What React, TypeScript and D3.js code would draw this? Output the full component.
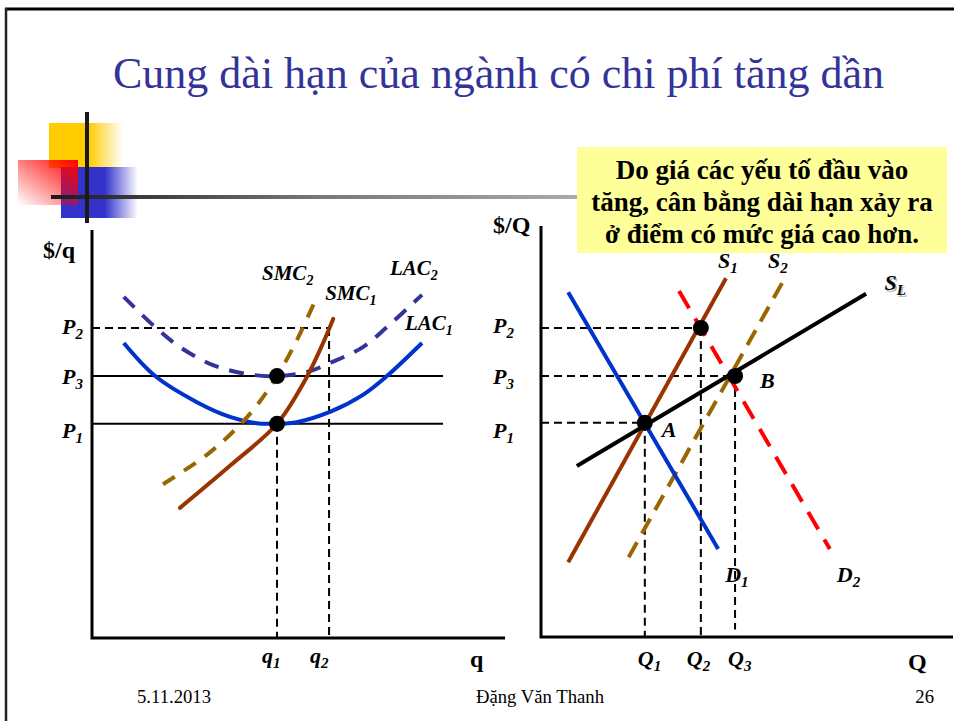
import React, { useEffect } from "react";
import * as d3 from "d3";

const W = 954;
const H = 721;
const SERIF = "'Liberation Serif', 'Times New Roman', Times, serif";

// ---------- Left panel: the firm ($/q vs q) ----------
const lac1: [number, number][] = [
  [0.77, 7.23], [1.53, 6.42], [2.54, 5.78], [3.34, 5.42], [3.95, 5.27], [4.48, 5.25],
  [4.96, 5.29], [5.76, 5.54], [6.56, 5.96], [7.14, 6.42], [7.99, 7.23],
];
const lac2: [number, number][] = [
  [0.77, 8.36], [1.53, 7.62], [2.13, 7.13], [2.93, 6.69], [3.75, 6.47], [4.48, 6.42],
  [5.21, 6.52], [5.76, 6.74], [6.56, 7.13], [7.14, 7.62], [7.99, 8.41],
];
const smc1: [number, number][] = [
  [2.13, 3.19], [3.34, 4.22], [4.48, 5.25], [5.16, 6.32], [5.52, 7.06], [5.84, 7.82],
];
const smc2: [number, number][] = [
  [1.72, 3.77], [2.78, 4.49], [3.51, 5.15], [4.0, 5.71], [4.48, 6.42], [4.96, 7.3], [5.4, 8.26],
];
const firmP1 = 5.25;
const firmP3 = 6.42;
const firmP2 = 7.6;
const firmQ1 = 4.48;
const firmQ2 = 5.74;
const firmLineEnd = 8.5;
const firmDots: [number, number][] = [[4.48, 6.42], [4.48, 5.25]];

// ---------- Right panel: the industry ($/Q vs Q) ----------
const d1: [number, number][] = [[0.66, 8.39], [4.3, 2.14]];
const d2: [number, number][] = [[3.35, 8.42], [7.01, 2.14]];
const s1: [number, number][] = [[4.49, 8.73], [0.66, 1.82]];
const s2: [number, number][] = [[5.85, 8.61], [2.06, 1.82]];
const sl: [number, number][] = [[0.87, 4.16], [7.89, 8.35]];
const mktP1 = 5.21;
const mktP3 = 6.35;
const mktP2 = 7.52;
const mktQ1 = 2.52;
const mktQ2 = 3.88;
const mktQ3 = 4.71;
const mktDots: [number, number][] = [[2.52, 5.21], [3.88, 7.52], [4.71, 6.35]];

const titleText = "Cung dài hạn của ngành có chi phí tăng dần";
const noteLines = [
  "Do giá các yếu tố đầu vào",
  "tăng, cân bằng dài hạn xảy ra",
  "ở điểm có mức giá cao hơn.",
];
const footerDate = "5.11.2013";
const footerAuthor = "Đặng Văn Thanh";
const footerPage = "26";

// scales
const xL = d3.scaleLinear().domain([0, 10]).range([92, 505]);
const yL = d3.scaleLinear().domain([0, 10]).range([638, 230]);
const xR = d3.scaleLinear().domain([0, 10]).range([541, 953]);
const yR = d3.scaleLinear().domain([0, 10]).range([637, 226]);

const curveL = d3
  .line<[number, number]>()
  .x((d) => xL(d[0]))
  .y((d) => yL(d[1]))
  .curve(d3.curveCatmullRom.alpha(0.5));
const lineR = d3
  .line<[number, number]>()
  .x((d) => xR(d[0]))
  .y((d) => yR(d[1]));

type LblProps = {
  x: number;
  y: number;
  main: string;
  sub?: string;
  size?: number;
  subSize?: number;
  italic?: boolean;
  fill?: string;
};
const Lbl = ({ x, y, main, sub, size = 22, subSize = 15, italic = true, fill = "#000" }: LblProps) => (
  <text
    x={x}
    y={y}
    fontFamily={SERIF}
    fontWeight="bold"
    fontStyle={italic ? "italic" : "normal"}
    fontSize={size}
    fill={fill}
  >
    {main}
    {sub ? (
      <tspan fontSize={subSize} dy={5}>
        {sub}
      </tspan>
    ) : null}
  </text>
);

export default function App() {
  useEffect(() => {
    document.body.style.margin = "0";
  }, []);

  const dash = "8 5";
  return (
    <svg
      width={W}
      height={H}
      viewBox={`0 0 ${W} ${H}`}
      style={{ position: "absolute", left: 0, top: 0, background: "#fff" }}
    >
      <defs>
        <linearGradient id="gYellow" x1="0" y1="0" x2="1" y2="0">
          <stop offset="0" stopColor="#ffcc00" />
          <stop offset="0.53" stopColor="#ffcc00" />
          <stop offset="1" stopColor="#ffcc00" stopOpacity="0" />
        </linearGradient>
        <linearGradient id="gBlue" x1="0" y1="0" x2="1" y2="0">
          <stop offset="0" stopColor="#3333cc" />
          <stop offset="0.57" stopColor="#3333cc" />
          <stop offset="1" stopColor="#3333cc" stopOpacity="0" />
        </linearGradient>
        <linearGradient id="gRed" x1="1" y1="0" x2="0" y2="1">
          <stop offset="0" stopColor="#ff0000" />
          <stop offset="1" stopColor="#ff0000" stopOpacity="0" />
        </linearGradient>
        <linearGradient id="gBar" x1="0" y1="0" x2="1" y2="0">
          <stop offset="0" stopColor="#1a1a1a" />
          <stop offset="0.5" stopColor="#777" />
          <stop offset="1" stopColor="#aaa" />
        </linearGradient>
      </defs>

      {/* slide frame */}
      <line x1={5} y1={9} x2={W} y2={9} stroke="#000" strokeWidth={3} />
      <line x1={6} y1={8} x2={6} y2={H} stroke="#222" strokeWidth={2.5} />

      {/* decoration */}
      <rect x={49} y={123} width={74} height={45} fill="url(#gYellow)" />
      <rect x={61} y={167} width={77} height={51} fill="url(#gBlue)" />
      <rect x={18} y={160} width={60} height={45} fill="url(#gRed)" />
      <rect x={51} y={195} width={526} height={4} fill="url(#gBar)" />
      <rect x={85} y={112} width={4} height={111} fill="#1a1a1a" />

      {/* title */}
      <text x={113} y={88} fontFamily={SERIF} fontSize={44} fill="#333399">
        {titleText}
      </text>

      {/* note box */}
      <rect x={577} y={147} width={370} height={106} fill="#ffff99" />
      {noteLines.map((t, i) => (
        <text
          key={i}
          x={762}
          y={179 + i * 32}
          textAnchor="middle"
          fontFamily={SERIF}
          fontWeight="bold"
          fontSize={27}
          fill="#000"
        >
          {t}
        </text>
      ))}

      {/* ===== Left panel ===== */}
      <g>
        {/* reference lines */}
        <line x1={xL(0)} y1={yL(firmP2)} x2={xL(firmQ2)} y2={yL(firmP2)} stroke="#000" strokeWidth={2} strokeDasharray={dash} />
        <line x1={xL(0)} y1={yL(firmP3)} x2={xL(firmLineEnd)} y2={yL(firmP3)} stroke="#000" strokeWidth={2} />
        <line x1={xL(0)} y1={yL(firmP1)} x2={xL(firmLineEnd)} y2={yL(firmP1)} stroke="#000" strokeWidth={2} />
        <line x1={xL(firmQ1)} y1={yL(firmP1)} x2={xL(firmQ1)} y2={yL(0)} stroke="#000" strokeWidth={2} strokeDasharray={dash} />
        <line x1={xL(firmQ2)} y1={yL(firmP2)} x2={xL(firmQ2)} y2={yL(0)} stroke="#000" strokeWidth={2} strokeDasharray={dash} />

        {/* curves */}
        <path d={curveL(lac2) || ""} fill="none" stroke="#333399" strokeWidth={4} strokeDasharray="15 11" />
        <path d={curveL(lac1) || ""} fill="none" stroke="#0033cc" strokeWidth={4} />
        <path d={curveL(smc2) || ""} fill="none" stroke="#996600" strokeWidth={4} strokeDasharray="14 11" />
        <path d={curveL(smc1) || ""} fill="none" stroke="#993300" strokeWidth={4} strokeLinecap="round" />

        {firmDots.map((d, i) => (
          <circle key={i} cx={xL(d[0])} cy={yL(d[1])} r={8} fill="#000" />
        ))}

        {/* axes */}
        <path d={`M${xL(0)},${yL(10)} V${yL(0)} H${xL(10)}`} fill="none" stroke="#000" strokeWidth={3} />

        {/* labels */}
        <Lbl x={43} y={258} main="$/q" italic={false} size={24} />
        <Lbl x={62} y={yL(firmP2) + 6} main="P" sub="2" />
        <Lbl x={62} y={yL(firmP3) + 8} main="P" sub="3" />
        <Lbl x={62} y={yL(firmP1) + 14} main="P" sub="1" />
        <Lbl x={xL(firmQ1) - 15} y={663} main="q" sub="1" />
        <Lbl x={xL(firmQ2) - 19} y={663} main="q" sub="2" />
        <Lbl x={470} y={667} main="q" italic={false} size={24} />
        <Lbl x={xL(smc2[smc2.length - 1][0]) - 53} y={yL(smc2[smc2.length - 1][1]) - 21} main="SMC" sub="2" size={21} subSize={14} />
        <Lbl x={xL(smc1[smc1.length - 1][0]) - 8} y={yL(smc1[smc1.length - 1][1]) - 19} main="SMC" sub="1" size={21} subSize={14} />
        <Lbl x={xL(lac2[lac2.length - 1][0]) - 32} y={yL(lac2[lac2.length - 1][1]) - 20} main="LAC" sub="2" size={21} subSize={14} />
        <Lbl x={xL(lac1[lac1.length - 1][0]) - 17} y={yL(lac1[lac1.length - 1][1]) - 13} main="LAC" sub="1" size={21} subSize={14} />
      </g>

      {/* ===== Right panel ===== */}
      <g>
        <line x1={xR(0)} y1={yR(mktP2)} x2={xR(mktQ2)} y2={yR(mktP2)} stroke="#000" strokeWidth={2} strokeDasharray={dash} />
        <line x1={xR(0)} y1={yR(mktP3)} x2={xR(mktQ3)} y2={yR(mktP3)} stroke="#000" strokeWidth={2} strokeDasharray={dash} />
        <line x1={xR(0)} y1={yR(mktP1)} x2={xR(mktQ1)} y2={yR(mktP1)} stroke="#000" strokeWidth={2} strokeDasharray={dash} />
        <line x1={xR(mktQ1)} y1={yR(mktP1)} x2={xR(mktQ1)} y2={yR(0)} stroke="#000" strokeWidth={2} strokeDasharray={dash} />
        <line x1={xR(mktQ2)} y1={yR(mktP2)} x2={xR(mktQ2)} y2={yR(0)} stroke="#000" strokeWidth={2} strokeDasharray={dash} />
        <line x1={xR(mktQ3)} y1={yR(mktP3)} x2={xR(mktQ3)} y2={yR(0.18)} stroke="#000" strokeWidth={2} strokeDasharray={dash} />

        <path d={lineR(d2) || ""} fill="none" stroke="#ff0000" strokeWidth={4} strokeDasharray="20 12" />
        <path d={lineR(s2) || ""} fill="none" stroke="#996600" strokeWidth={4} strokeDasharray="17 10" />
        <path d={lineR(d1) || ""} fill="none" stroke="#0033cc" strokeWidth={4} />
        <path d={lineR(s1) || ""} fill="none" stroke="#993300" strokeWidth={4} />
        <path d={lineR(sl) || ""} fill="none" stroke="#000" strokeWidth={4} />

        {mktDots.map((d, i) => (
          <circle key={i} cx={xR(d[0])} cy={yR(d[1])} r={8} fill="#000" />
        ))}

        <path d={`M${xR(0)},${yR(10)} V${yR(0)} H${xR(10)}`} fill="none" stroke="#000" strokeWidth={3} />

        <Lbl x={493} y={233} main="$/Q" italic={false} size={24} />
        <Lbl x={493} y={yR(mktP2) + 5} main="P" sub="2" />
        <Lbl x={493} y={yR(mktP3) + 8} main="P" sub="3" />
        <Lbl x={493} y={yR(mktP1) + 15} main="P" sub="1" />
        <Lbl x={xR(mktQ1) - 7} y={666} main="Q" sub="1" />
        <Lbl x={xR(mktQ2) - 14} y={666} main="Q" sub="2" />
        <Lbl x={xR(mktQ3) - 7} y={666} main="Q" sub="3" />
        <Lbl x={908} y={670} main="Q" italic={false} size={24} />
        <Lbl x={xR(mktQ1) + 17} y={yR(mktP1) + 14} main="A" />
        <Lbl x={xR(mktQ3) + 25} y={yR(mktP3) + 12} main="B" />
        <Lbl x={xR(s1[0][0]) - 8} y={268} main="S" sub="1" />
        <Lbl x={xR(s2[0][0]) - 14} y={268} main="S" sub="2" />
        <Lbl x={xR(sl[1][0]) + 20} y={yR(sl[1][1]) - 2} main="S" sub="L" fill="#bbb" />
        <Lbl x={xR(sl[1][0]) + 18.5} y={yR(sl[1][1]) - 3.5} main="S" sub="L" />
        <Lbl x={xR(d1[1][0]) + 7} y={582} main="D" sub="1" />
        <Lbl x={xR(d2[1][0]) + 7} y={582} main="D" sub="2" />
      </g>

      {/* footer */}
      <text x={137} y={703} fontFamily={SERIF} fontSize={18.7} fill="#000">
        {footerDate}
      </text>
      <text x={540} y={703} textAnchor="middle" fontFamily={SERIF} fontSize={18.7} fill="#000">
        {footerAuthor}
      </text>
      <text x={934} y={703} textAnchor="end" fontFamily={SERIF} fontSize={18.7} fill="#000">
        {footerPage}
      </text>
    </svg>
  );
}
